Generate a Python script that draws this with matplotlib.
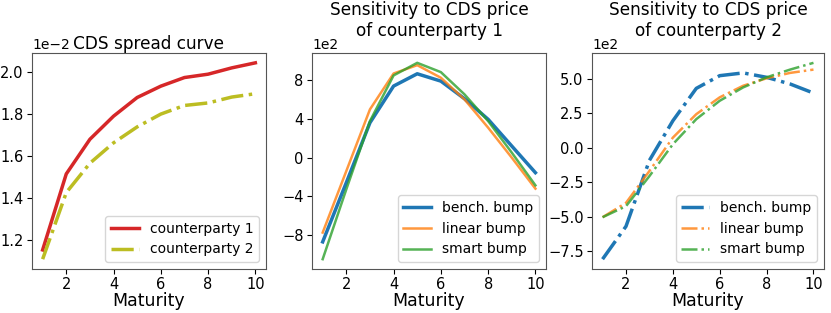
import numpy as np
import matplotlib
matplotlib.use("Agg")
import matplotlib.pyplot as plt

# maturities (years)
maturity = [1, 2, 3, 4, 5, 6, 7, 8, 9, 10]

# CDS spread curves
spread_cp1 = [0.01152, 0.01514, 0.01679, 0.01789, 0.01878, 0.01932, 0.01973, 0.01989, 0.02019, 0.02043]
spread_cp2 = [0.01108, 0.01425, 0.01565, 0.01662, 0.01738, 0.01799, 0.01840, 0.01852, 0.01880, 0.01896]

# sensitivity to CDS price of counterparty 1
sens1_bench = [-870, -258, 361, 740, 867, 791, 609, 396, 120, -155]
sens1_linear = [-774, -138, 499, 870, 956, 826, 602, 310, 0, -320]
sens1_smart = [-1049, -327, 378, 850, 980, 884, 654, 378, 52, -286]

# sensitivity to CDS price of counterparty 2
sens2_bench = [-806, -568, -90, 197, 432, 524, 544, 512, 464, 398]
sens2_linear = [-502, -398, -167, 75, 245, 367, 451, 505, 544, 568]
sens2_smart = [-502, -422, -204, 27, 209, 342, 439, 512, 568, 617]

fig = plt.figure(figsize=(8.31, 3.13), dpi=100)
ax1 = fig.add_axes([0.0385, 0.1406, 0.2816, 0.690])
ax2 = fig.add_axes([0.3755, 0.1406, 0.2816, 0.690])
ax3 = fig.add_axes([0.7124, 0.1406, 0.2792, 0.690])

tick_size = 10.5
offset_size = 10
legend_size = 10
label_size = 12.5
title_size = 12.2

# --- CDS spread curve ---
ax1.plot(maturity, spread_cp1, color="#d62728", lw=2.5, label="counterparty 1")
ax1.plot(maturity, spread_cp2, color="#bcbd22", lw=2.5, ls="-.", label="counterparty 2")
ax1.set_yticks([0.012, 0.014, 0.016, 0.018, 0.020])
ax1.set_title("CDS spread curve", fontsize=title_size, y=1.0, pad=3)

# --- counterparty 1 ---
ax2.plot(maturity, sens1_bench, color="#1f77b4", lw=2.5, label="bench. bump")
ax2.plot(maturity, sens1_linear, color="#ff7f0e", lw=1.8, alpha=0.8, label="linear bump")
ax2.plot(maturity, sens1_smart, color="#2ca02c", lw=1.8, alpha=0.8, label="smart bump")
ax2.set_yticks([-800, -400, 0, 400, 800])
ax2.set_title("Sensitivity to CDS price\nof counterparty 1", fontsize=title_size, y=1.0, pad=12.5)

# --- counterparty 2 ---
ax3.plot(maturity, sens2_bench, color="#1f77b4", lw=2.5, ls="-.", label="bench. bump")
ax3.plot(maturity, sens2_linear, color="#ff7f0e", lw=1.8, ls="-.", alpha=0.8, label="linear bump")
ax3.plot(maturity, sens2_smart, color="#2ca02c", lw=1.8, ls="-.", alpha=0.8, label="smart bump")
ax3.set_yticks([-750, -500, -250, 0, 250, 500])
ax3.set_title("Sensitivity to CDS price\nof counterparty 2", fontsize=title_size, y=1.0, pad=12.5)

for ax in (ax1, ax2, ax3):
    ax.set_xticks([2, 4, 6, 8, 10])
    ax.set_xlabel("Maturity", fontsize=label_size, labelpad=0)
    ax.ticklabel_format(axis="y", style="sci", scilimits=(0, 0))
    ax.tick_params(labelsize=tick_size, pad=2.5)
    ax.yaxis.get_offset_text().set_fontsize(offset_size)
    ax.legend(loc="lower right", fontsize=legend_size)
    for spine in ax.spines.values():
        spine.set_color("#555555")

fig.savefig("out.png", dpi=100)
